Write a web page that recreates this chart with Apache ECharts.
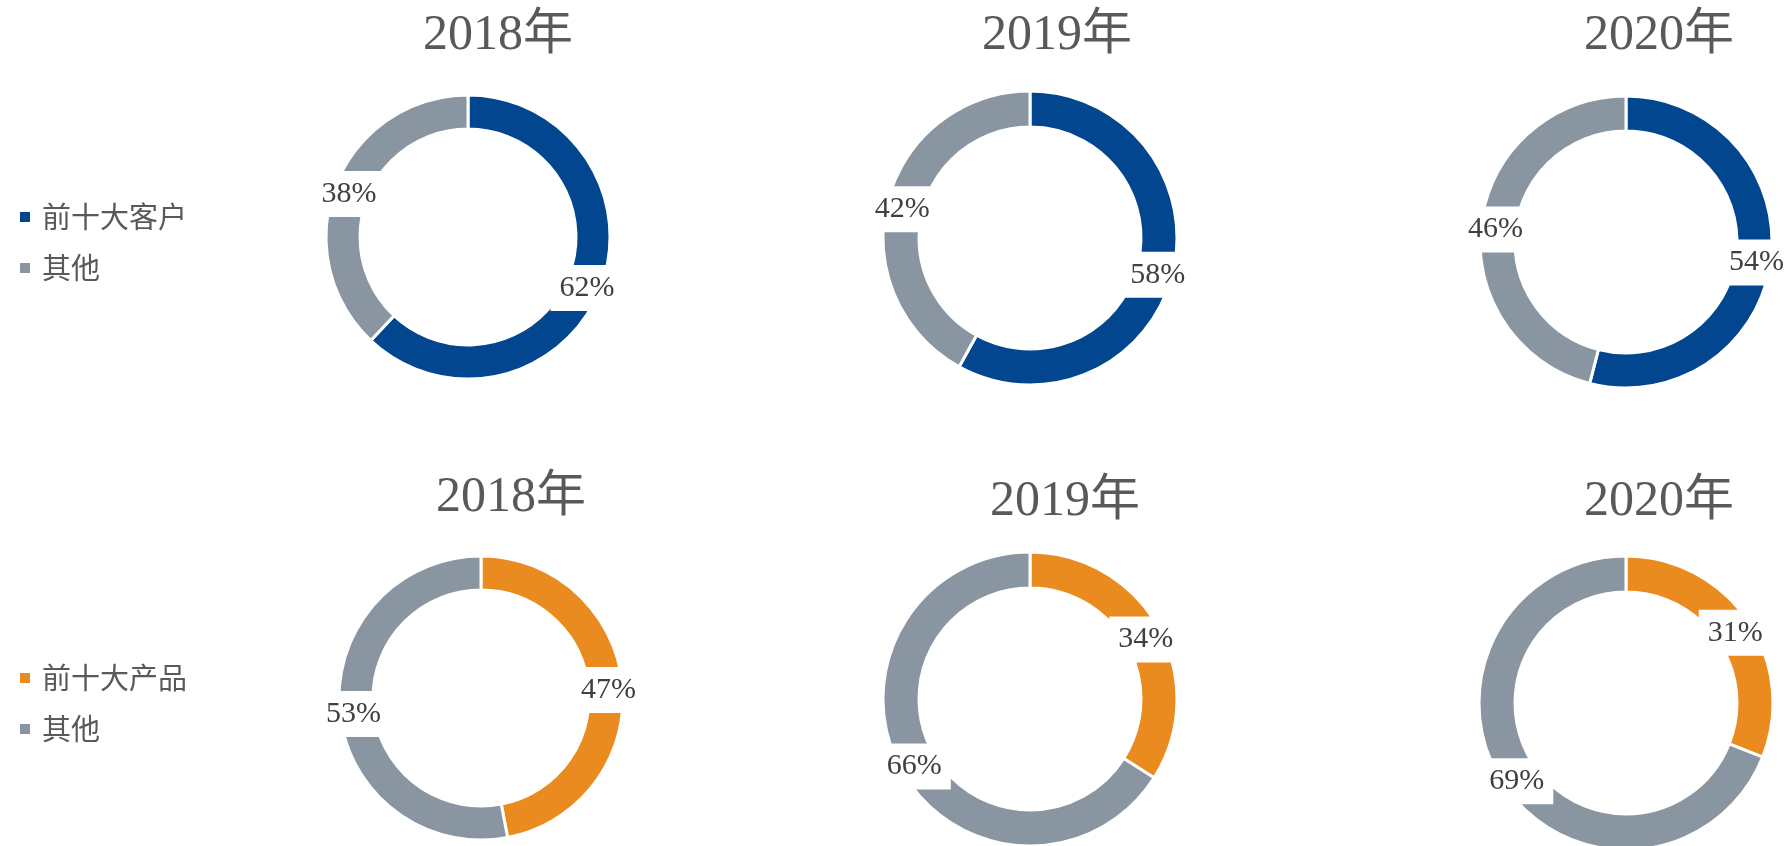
<!DOCTYPE html>
<html>
<head>
<meta charset="utf-8">
<script src="https://cdn.jsdelivr.net/npm/echarts@6/dist/echarts.min.js"></script>
<style>html,body{margin:0;padding:0;background:#fff;}#c{width:1785px;height:846px;}</style>
</head>
<body>
<div id="c"></div>
<script>
const years = ['2018年', '2019年', '2020年'];
const clientTop10 = [62, 58, 54];
const clientOther = [38, 42, 46];
const productTop10 = [47, 34, 31];
const productOther = [53, 66, 69];
const clientNames = ['前十大客户', '其他'];
const productNames = ['前十大产品', '其他'];

const BLUE = '#02468F', GRAY = '#8A95A2', ORANGE = '#E98B1F';
const serif = '"Liberation Serif", "Times New Roman", "Noto Sans CJK SC", serif';

const centers = [[468, 237], [1030, 238], [1626, 242], [481, 698], [1030, 699], [1626, 703]];
const radii = [[108, 142], [111, 147], [111, 146], [108, 142], [111, 147], [111, 147]];
const titlePos = [[423, 11], [982, 11], [1584, 11], [436, 473], [990, 477], [1584, 477]];

const series = [];
const titles = [];
for (let i = 0; i < 6; i++) {
  const top = i < 3;
  const k = i % 3;
  const names = top ? clientNames : productNames;
  const v1 = top ? clientTop10[k] : productTop10[k];
  const v2 = top ? clientOther[k] : productOther[k];
  const c1 = top ? BLUE : ORANGE;
  titles.push({
    text: years[k], left: titlePos[i][0], top: titlePos[i][1], padding: 0,
    textStyle: { fontFamily: serif, fontSize: 50, fontWeight: 'normal', color: '#595959' }
  });
  series.push({
    type: 'pie',
    center: centers[i],
    radius: radii[i],
    startAngle: 90,
    clockwise: true,
    avoidLabelOverlap: false,
    silent: true,
    itemStyle: { borderColor: '#fff', borderWidth: 3 },
    label: {
      show: true, position: 'inside', formatter: '{c}%',
      fontFamily: serif, fontSize: 30, color: '#404040',
      backgroundColor: '#fff', padding: [8, 9], offset: [0, 4]
    },
    labelLine: { show: false },
    data: [
      { name: names[0], value: v1, itemStyle: { color: c1 } },
      { name: names[1], value: v2, itemStyle: { color: GRAY } }
    ]
  });
}

const legendStyle = {
  orient: 'vertical', left: 13, icon: 'rect', itemWidth: 12, itemHeight: 12, itemGap: 21,
  selectedMode: false,
  textStyle: { fontFamily: '"Noto Sans CJK SC", sans-serif', fontSize: 29, color: '#595959', lineHeight: 30, padding: [0, 0, 0, 6] }
};

const chart = echarts.init(document.getElementById('c'));
chart.setOption({
  animation: false,
  backgroundColor: '#fff',
  title: titles,
  legend: [
    Object.assign({}, legendStyle, { top: 197, data: [{ name: clientNames[0], itemStyle: { color: BLUE } }, { name: clientNames[1], itemStyle: { color: GRAY } }] }),
    Object.assign({}, legendStyle, { top: 658, data: [{ name: productNames[0], itemStyle: { color: ORANGE } }, { name: productNames[1], itemStyle: { color: GRAY } }] })
  ],
  series: series
});
</script>
</body>
</html>
